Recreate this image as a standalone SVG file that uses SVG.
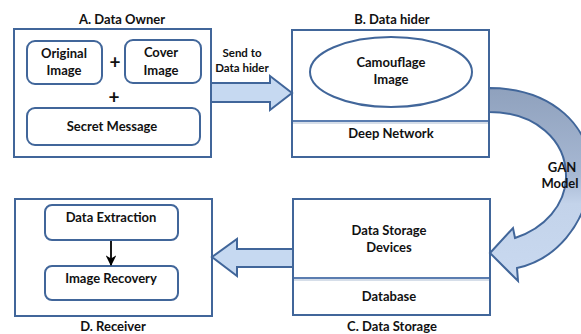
<svg xmlns="http://www.w3.org/2000/svg" width="581" height="334" viewBox="0 0 581 334">
<defs>
<style>
.box{fill:#fff;stroke:#41669a;stroke-width:2}
.rbox{fill:#fff;stroke:#41669a;stroke-width:2}
.t{font-family:Lato,"Open Sans","Liberation Sans",sans-serif;font-weight:bold;font-size:13px;fill:#111;text-anchor:middle}
.s{font-size:11.5px}
.p{font-size:19px;font-weight:bold}
.div{stroke:#5b7db0;stroke-width:2}
.arrow{fill:#c6d9f1;stroke:#41669a;stroke-width:2;stroke-linejoin:miter}
</style>
<linearGradient id="gan" x1="0" y1="0" x2="0" y2="1">
<stop offset="0" stop-color="#8fa1bd"/>
<stop offset="0.45" stop-color="#a7b8d3"/>
<stop offset="0.6" stop-color="#c3d3ea"/>
<stop offset="1" stop-color="#c9d9f0"/>
</linearGradient>
<marker id="ah" viewBox="0 0 10 10" refX="9" refY="5" markerWidth="6" markerHeight="6" orient="auto">
<path d="M0,0 L10,5 L0,10 L3,5 z" fill="#000"/>
</marker>
</defs>

<g id="nodeA">
<text class="t" x="122" y="24">A.  Data Owner</text>
<rect class="box" x="14" y="29" width="197" height="128"/>
</g>
<g id="originalImage">
<rect class="rbox" x="27" y="41" width="75" height="43" rx="8"/>
<text class="t" x="64" y="58">Original</text>
<text class="t" x="64" y="75">Image</text>
</g>
<text class="t p" x="115" y="69">+</text>
<g id="coverImage">
<rect class="rbox" x="125" y="40" width="76" height="43" rx="8"/>
<text class="t" x="161" y="57">Cover</text>
<text class="t" x="161" y="75">Image</text>
</g>
<text class="t p" x="114" y="104">+</text>
<g id="secretMessage">
<rect class="rbox" x="27" y="108" width="173" height="37" rx="8"/>
<text class="t" x="112" y="131">Secret Message</text>
</g>

<g id="nodeB">
<text class="t" x="392" y="24">B. Data hider</text>
<rect class="box" x="292" y="30" width="197" height="127"/>
<line class="div" x1="293" y1="121" x2="488" y2="121"/>
<line x1="293" y1="123" x2="488" y2="123" stroke="#c9d3e2" stroke-width="1.5"/>
<ellipse cx="391" cy="72" rx="81" ry="35" fill="#fff" stroke="#41669a" stroke-width="2"/>
<text class="t" x="391" y="67">Camouflage</text>
<text class="t" x="391" y="84">Image</text>
<text class="t" x="391" y="138">Deep Network</text>
</g>

<g id="nodeC">
<rect class="box" x="293" y="199" width="197" height="116"/>
<line class="div" x1="294" y1="278" x2="489" y2="278"/>
<line x1="294" y1="280" x2="489" y2="280" stroke="#c9d3e2" stroke-width="1.5"/>
<text class="t" x="389" y="235">Data Storage</text>
<text class="t" x="389" y="252">Devices</text>
<text class="t" x="389" y="301">Database</text>
<text class="t" x="392" y="331">C. Data Storage</text>
</g>

<g id="nodeD">
<rect class="box" x="15" y="199" width="197" height="117"/>
<text class="t" x="113" y="331">D. Receiver</text>
</g>
<g id="dataExtraction">
<rect class="rbox" x="45" y="205" width="133" height="35" rx="7"/>
<text class="t" x="111" y="222">Data Extraction</text>
</g>
<g id="imageRecovery">
<rect class="rbox" x="45" y="266" width="133" height="34" rx="7"/>
<text class="t" x="111" y="283">Image Recovery</text>
</g>

<g id="connectors">
<path class="arrow" d="M211,83 L270,83 L270,76 L292,93 L270,110 L270,102 L211,102 Z"/>
<path class="arrow" d="M293,249 L237,249 L237,239 L212,257 L237,276 L237,267 L293,267 Z"/>
<path d="M489,88 C550,88 595,125 590,180 C586,225 555,260 517,268 L518,281 L490,253 L513,228 L515,238 C545,228 565,205 566,178 C567,140 535,112 489,112 Z" fill="url(#gan)" stroke="#41669a" stroke-width="2"/>
<line x1="111" y1="241" x2="111" y2="265" stroke="#000" stroke-width="1.8" marker-end="url(#ah)"/>
<text class="t s" x="242" y="57">Send to</text>
<text class="t s" x="242" y="72">Data  hider</text>
<text class="t" x="562" y="172">GAN</text>
<text class="t" x="560" y="188">Model</text>
</g>
</svg>
